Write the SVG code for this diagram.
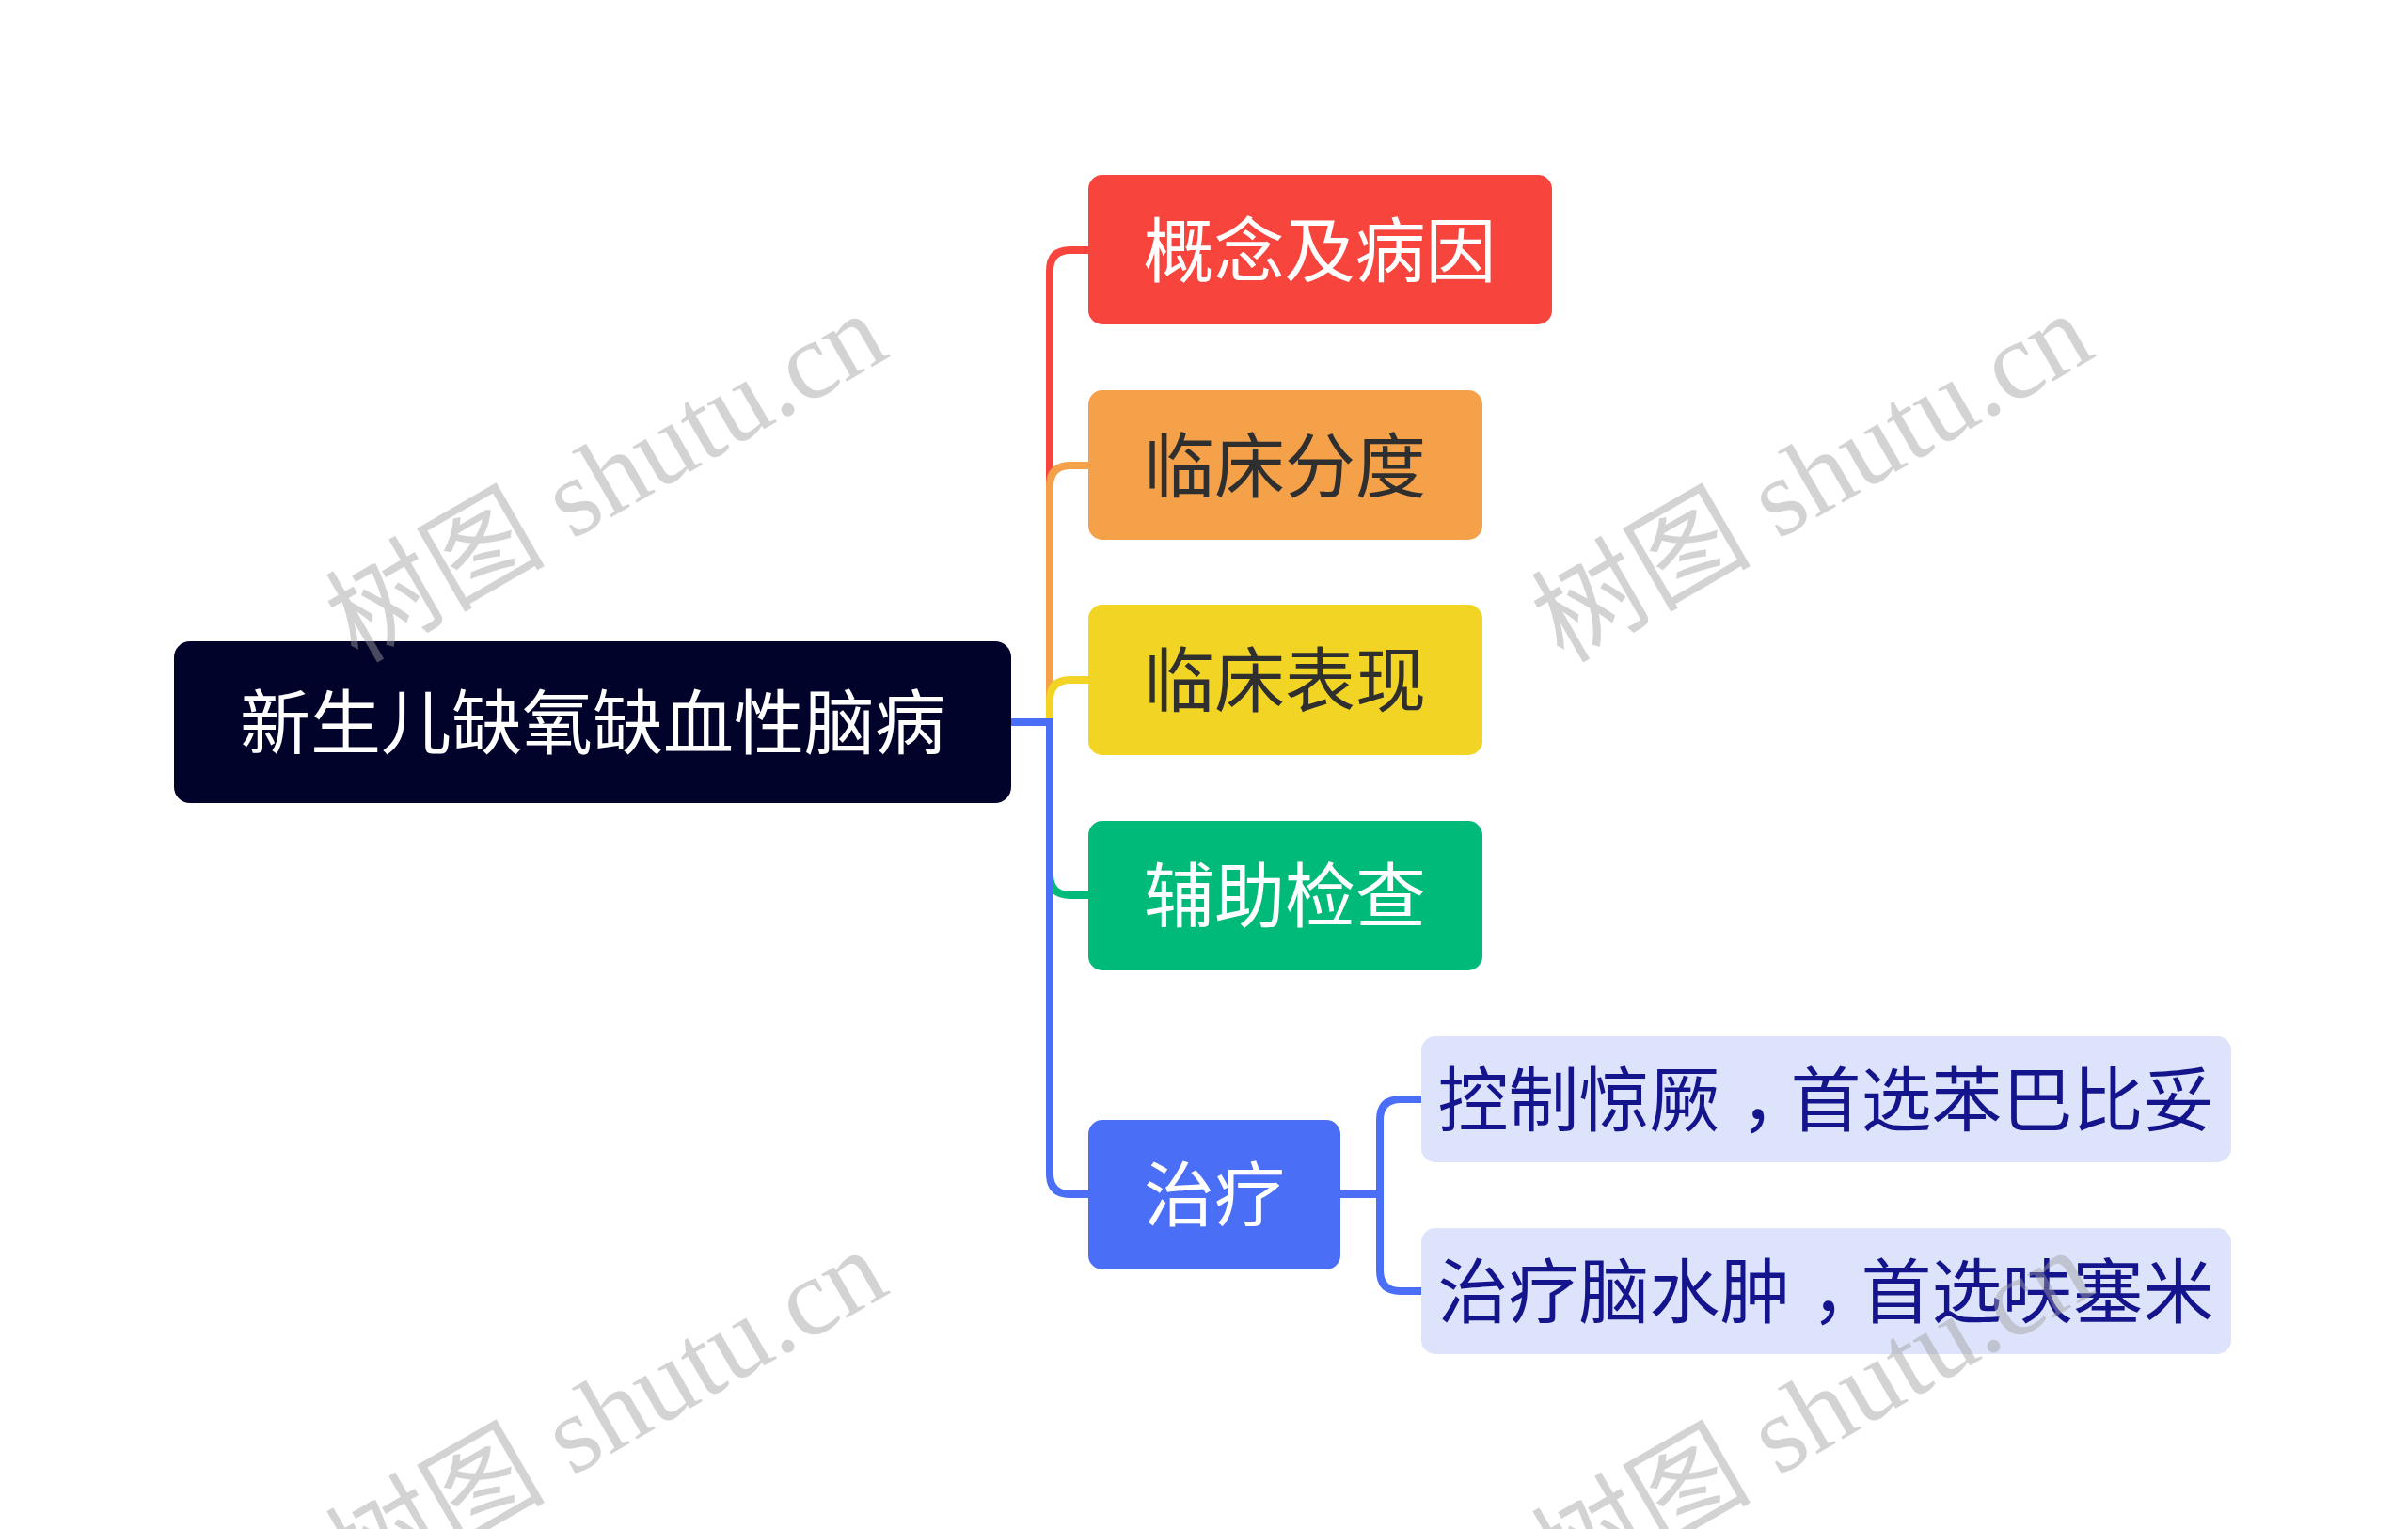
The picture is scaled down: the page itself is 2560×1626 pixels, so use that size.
<svg xmlns="http://www.w3.org/2000/svg" width="2560" height="1626" viewBox="0 0 2560 1626">
<style>
.t{font-family:"Noto Sans CJK SC","Noto Sans",sans-serif;font-size:75px;text-anchor:middle}
.w{fill:#fff}
.d{fill:#2f2f2f}
.s{fill:#14148c}
.c{fill:none;stroke-width:8;stroke-linecap:butt}
.wm{font-family:"Liberation Serif","Noto Sans CJK SC",serif;font-size:117px;fill:#a0a0a0;opacity:0.45}
</style>
<rect width="2560" height="1626" fill="#fff"/>
<g id="connectors">
<path class="c" stroke="#f7453d" d="M1075 768 H1116 V288 Q1116 266 1138 266 H1160"/>
<path class="c" stroke="#f4a14a" d="M1075 768 H1116 V517 Q1116 495 1138 495 H1160"/>
<path class="c" stroke="#f2d424" d="M1075 768 H1116 V745 Q1116 723 1138 723 H1160"/>
<path class="c" stroke="#00ba7a" d="M1075 768 H1116 V930 Q1116 952 1138 952 H1160"/>
<path class="c" stroke="#4a6ef5" d="M1072 768 H1116 V1248 Q1116 1270 1138 1270 H1160"/>
<path class="c" stroke="#4a6ef5" d="M1422 1270 H1467 V1191 Q1467 1169 1489 1169 H1514"/>
<path class="c" stroke="#4a6ef5" d="M1422 1270 H1467 V1351 Q1467 1373 1489 1373 H1514"/>
</g>
<g id="root">
<rect x="185" y="682" width="890" height="172" rx="17" fill="#02032a"/>
<text class="t w" x="630" y="796">新生儿缺氧缺血性脑病</text>
</g>
<g id="n1">
<rect x="1157" y="186" width="493" height="159" rx="15" fill="#f7453d"/>
<text class="t w" x="1403" y="294">概念及病因</text>
</g>
<g id="n2">
<rect x="1157" y="415" width="419" height="159" rx="15" fill="#f4a14a"/>
<text class="t d" x="1366" y="523">临床分度</text>
</g>
<g id="n3">
<rect x="1157" y="643" width="419" height="160" rx="15" fill="#f2d424"/>
<text class="t d" x="1366" y="751">临床表现</text>
</g>
<g id="n4">
<rect x="1157" y="873" width="419" height="159" rx="15" fill="#00ba7a"/>
<text class="t w" x="1366" y="980">辅助检查</text>
</g>
<g id="n5">
<rect x="1157" y="1191" width="268" height="159" rx="15" fill="#4a6ef5"/>
<text class="t w" x="1291" y="1298">治疗</text>
</g>
<g id="n5a">
<rect x="1511" y="1102" width="861" height="134" rx="15" fill="#dce3fa"/>
<text class="t s" x="1941" y="1197">控制惊厥<tspan dx="22">，</tspan><tspan dx="-22">首选苯巴比妥</tspan></text>
</g>
<g id="n5b">
<rect x="1511" y="1306" width="861" height="134" rx="15" fill="#dce3fa"/>
<text class="t s" x="1941" y="1401">治疗脑水肿<tspan dx="22">，</tspan><tspan dx="-22">首选呋塞米</tspan></text>
</g>
<g id="watermarks">
<text class="wm" x="380" y="706" transform="rotate(-30 380 706)">树图 shutu.cn</text>
<text class="wm" x="1662" y="706" transform="rotate(-30 1662 706)">树图 shutu.cn</text>
<text class="wm" x="380" y="1702" transform="rotate(-30 380 1702)">树图 shutu.cn</text>
<text class="wm" x="1662" y="1702" transform="rotate(-30 1662 1702)">树图 shutu.cn</text>
</g>
</svg>
